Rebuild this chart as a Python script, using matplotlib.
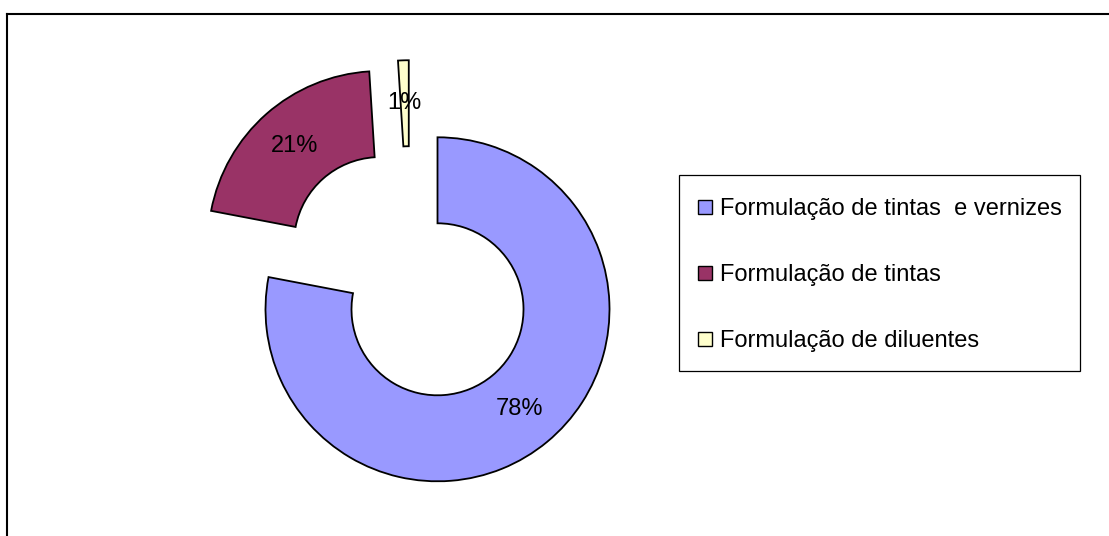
import numpy as np
import matplotlib
matplotlib.use("Agg")
import matplotlib.pyplot as plt
from matplotlib.lines import Line2D
from matplotlib.patches import Rectangle
from matplotlib.legend_handler import HandlerPatch

plt.rcParams['font.family'] = ['Liberation Sans', 'DejaVu Sans']

# ---- data ----
labels = ["Formulação de tintas  e vernizes", "Formulação de tintas", "Formulação de diluentes"]
values = [78, 21, 1]
pct_labels = ["78%", "21%", "1%"]
colors = ["#9999FF", "#993366", "#FFFFCC"]

# explode offsets (in radius units) for each slice
offsets = [(0.0, 0.0), (-0.334, 0.385), (-0.167, 0.448)]

W, H = 1109, 536
fig = plt.figure(figsize=(W / 100, H / 100), dpi=100)
ax = fig.add_axes([0, 0, 1, 1])

wedges, _ = ax.pie(values, startangle=90, counterclock=False, radius=1.0,
                   colors=colors,
                   wedgeprops=dict(width=0.5, edgecolor='black', linewidth=1.3))

R_px = 172.0
cx_px, cy_px = 437.5, 309.3
ax.set_xlim(-cx_px / R_px, (W - cx_px) / R_px)
ax.set_ylim(-(H - cy_px) / R_px, cy_px / R_px)
ax.set_aspect('equal')
ax.axis('off')

for w, off, lab in zip(wedges, offsets, pct_labels):
    w.set_center(off)
    mid = np.deg2rad((w.theta1 + w.theta2) / 2.0)
    x = off[0] + 0.75 * np.cos(mid)
    y = off[1] + 0.75 * np.sin(mid)
    ax.text(x, y, lab, ha='center', va='center', fontsize=17, color='black')


def small_square(legend, orig_handle, xdescent, ydescent, width, height, fontsize):
    side = width
    return Rectangle((-xdescent, -ydescent + (height - side) / 2.0), side, side)


leg = ax.legend(wedges, labels, loc='upper left',
                bbox_to_anchor=(679 / W, 1 - 175 / H), bbox_transform=fig.transFigure,
                borderaxespad=0, fontsize=17, frameon=True, fancybox=False,
                shadow=False, framealpha=1.0, handlelength=0.6, handleheight=1.35,
                handletextpad=0.32, labelspacing=1.67, borderpad=0.8,
                handler_map={matplotlib.patches.Wedge: HandlerPatch(patch_func=small_square)})
leg.get_frame().set_edgecolor('black')
leg.get_frame().set_linewidth(0.9)
for h in leg.legend_handles:
    h.set_linewidth(1.0)

# outer chart border (top and left visible)
fig.add_artist(Line2D([7 / W, 1.0], [1 - 14 / H, 1 - 14 / H], transform=fig.transFigure,
                      color='black', linewidth=1.5))
fig.add_artist(Line2D([7 / W, 7 / W], [0.0, 1 - 14 / H], transform=fig.transFigure,
                      color='black', linewidth=1.5))

fig.savefig("out.png", dpi=100)
